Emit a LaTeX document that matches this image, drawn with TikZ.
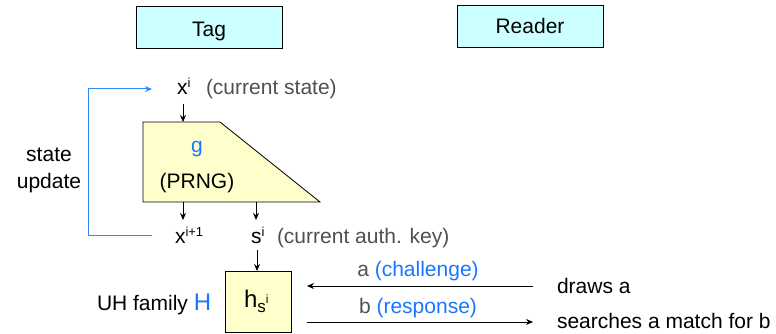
\documentclass[tikz,border=0pt]{standalone}
\usepackage{fontspec}
\setmainfont{Liberation Sans}
\usetikzlibrary{arrows.meta}
\definecolor{hlblue}{RGB}{26,117,255}
\definecolor{lineblue}{RGB}{51,133,255}
\definecolor{txtgray}{RGB}{80,80,80}
\definecolor{boxcyan}{RGB}{204,255,255}
\definecolor{boxyellow}{RGB}{255,255,204}
\newcommand{\txt}{\fontsize{21}{25}\selectfont}
\begin{document}
\begin{tikzpicture}[x=1pt,y=-1pt,
  every node/.style={inner sep=0pt,outer sep=0pt,font=\txt},
  party/.style={draw,fill=boxcyan,line width=0.8pt,minimum width=146pt,minimum height=42pt},
  lbl/.style={anchor=base west},
  lblc/.style={anchor=base},
  arr/.style={-{Stealth[length=7pt,width=6pt]},line width=0.8pt},
  fb/.style={lineblue,line width=1pt}]
\useasboundingbox (0,0) rectangle (776,334);

% participants
\node[party] (tag) at (209,27) {};
\node[lblc] (tagtxt) at (209,37) {Tag};
\node[party] (reader) at (530,26.5) {};
\node[lblc] (readertxt) at (530,34) {Reader};

% PRNG block
\coordinate (tl) at (143,122);
\coordinate (tr) at (220,122);
\coordinate (br) at (320,202);
\coordinate (bl) at (143,202);
\draw[fill=boxyellow,line width=0.8pt] (tl) -- (tr) -- (br) -- (bl) -- cycle;
\node[lblc,text=hlblue] (g) at (197,153) {g};
\node[lblc] (prng) at (197,188) {(PRNG)};

% current state
\node[lbl] (xi) at (177,95) {x\raisebox{7pt}{\fontsize{13}{13}\selectfont i}};
\node[lbl,text=txtgray] (cs) at (206,95) {(current state)};
\coordinate (xiout) at (183,104);
\coordinate (gin) at (183,122);
\draw[arr] (xiout) -- (gin);

% outputs
\coordinate (gout1) at (183,202);
\coordinate (xnin) at (183,220);
\coordinate (gout2) at (256,202);
\coordinate (sin) at (256,220);
\draw[arr] (gout1) -- (xnin);
\draw[arr] (gout2) -- (sin);
\node[lbl] (xn) at (175,243) {x\raisebox{7pt}{\fontsize{13}{13}\selectfont i+1}};
\node[lbl] (si) at (251,243) {s\raisebox{7pt}{\fontsize{13}{13}\selectfont i}};
\node[lbl,text=txtgray] (ak) at (277,243) {(current auth. key)};

% state update loop
\coordinate (fb1) at (152,235);
\coordinate (fb2) at (88,235);
\coordinate (fb3) at (88,89);
\coordinate (fb4) at (152,89);
\draw[fb,-{Stealth[length=7pt,width=6pt]}] (fb1) -- (fb2) -- (fb3) -- (fb4);
\node[lblc] (st1) at (49,161) {state};
\node[lblc] (st2) at (49,188) {update};

% universal hash
\node[draw,fill=boxyellow,line width=0.8pt,minimum width=66pt,minimum height=61pt] (h) at (258,301.5) {};
\node[lbl] (htxt) at (244,307) {{\fontsize{24}{24}\selectfont h}\raisebox{-5pt}{\fontsize{17}{17}\selectfont s}\raisebox{4pt}{\fontsize{12}{12}\selectfont i}};
\coordinate (sout) at (257,250);
\draw[arr] (sout) -- (h.north -| sout);
\node[lbl] (uh) at (97,310) {UH family {\fontsize{24}{24}\selectfont\color{hlblue}H}};

% challenge / response
\coordinate (rdA) at (533,286);
\coordinate (rdB) at (533,322);
\coordinate (tgA) at (307,286);
\coordinate (tgB) at (307,322);
\draw[arr] (rdA) -- (tgA);
\draw[arr] (tgB) -- (rdB);
\node[lblc] (chal) at (418,276) {\color{txtgray}a \color{hlblue}(challenge)};
\node[lblc] (resp) at (418,313) {\color{txtgray}b \color{hlblue}(response)};
\node[lbl] (draws) at (557,293) {draws a};
\node[lbl] (search) at (557,328) {searches a match for b};
\end{tikzpicture}
\end{document}
